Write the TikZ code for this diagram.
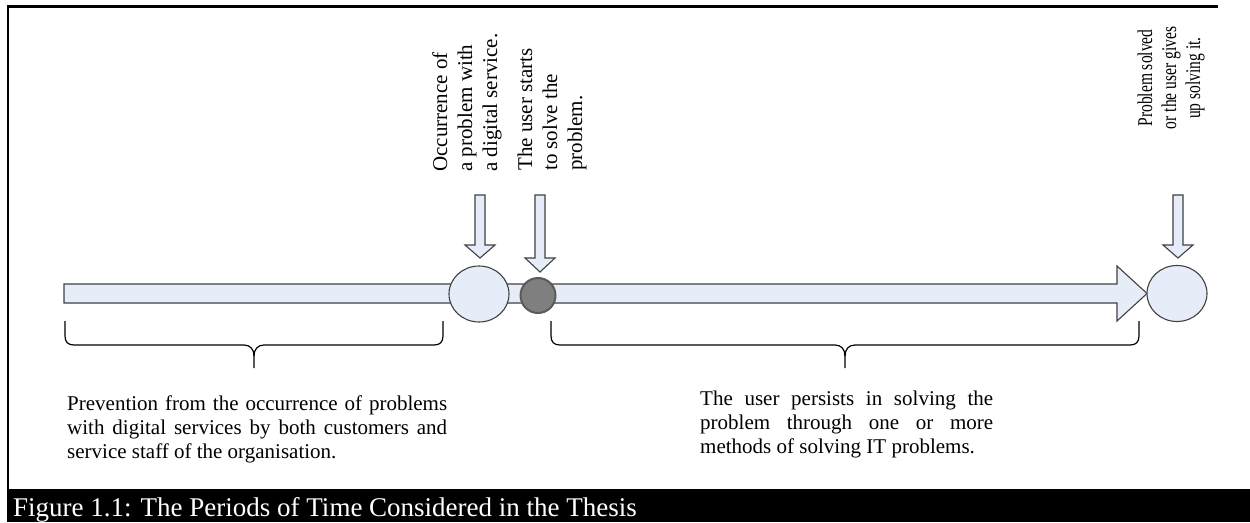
\documentclass[tikz,border=0pt]{standalone}
\usepackage{fontspec}
\usepackage{graphicx}
\setmainfont{Liberation Serif}
\usetikzlibrary{shapes.geometric}

\definecolor{fillblue}{HTML}{E6EDF8}
\definecolor{edgegray}{HTML}{404040}
\definecolor{dotgray}{HTML}{7F7F7F}
\definecolor{dotedge}{HTML}{5A5A5A}

% a downward block arrow: centre x, top of shaft, start of head, tip
\newcommand{\blockdown}[4]{%
  \draw[blockarrow] (#1-5,#2) -- (#1+5,#2) -- (#1+5,#3) -- (#1+15,#3)
    -- (#1,#4) -- (#1-15,#3) -- (#1-5,#3) -- cycle;}
% a brace under a period: left end, right end, middle
\newcommand{\periodbrace}[3]{%
  \draw[bracket] (#1,321) -- (#1,336) .. controls (#1,342) and (#1+3,345) .. (#1+9,345)
    -- (#3-10,345) .. controls (#3-4,345) and (#3,349) .. (#3,356) -- (#3,368);
  \draw[bracket] (#2,321) -- (#2,336) .. controls (#2,342) and (#2-3,345) .. (#2-9,345)
    -- (#3+10,345) .. controls (#3+4,345) and (#3,349) .. (#3,356);}

\begin{document}
\begin{tikzpicture}[x=1pt,y=-1pt,
  blockarrow/.style={draw=edgegray,fill=fillblue,line width=1.1pt,line join=miter},
  event/.style={ellipse,draw=edgegray,fill=fillblue,line width=1.1pt,
    minimum width=60pt,minimum height=56pt,inner sep=0pt},
  startdot/.style={circle,draw=dotedge,fill=dotgray,line width=2pt,
    minimum size=35pt,inner sep=0pt},
  bracket/.style={draw=black,line width=1.2pt},
  vlabel/.style={rotate=90,inner sep=0pt,font=\fontsize{21}{25}\selectfont},
  bodytext/.style={inner sep=0pt,anchor=base west,font=\fontsize{21}{24}\selectfont}]

\useasboundingbox (0,0) rectangle (1250,522);

% frame and caption bar
\draw[line width=2.5pt] (7.8,489) -- (7.8,6.7) -- (1218,6.7);
\fill[black] (7,489) rectangle (1250,522);
\node[anchor=base west,inner sep=0pt,text=white,font=\fontsize{27}{30}\selectfont]
  (caption) at (13,516) {Figure 1.1: The Periods of Time Considered in the Thesis};

% time line
\draw[blockarrow] (64,284) -- (1117,284) -- (1117,266) -- (1147,293.5)
  -- (1117,321) -- (1117,303) -- (64,303) -- cycle;
\node[event] (occur) at (479,294) {};
\node[startdot] (start) at (538,295.5) {};
\node[event] (solved) at (1177,293.5) {};

% events pointing onto the time line
\blockdown{480}{195}{245}{258}
\blockdown{540}{195}{258}{272}
\blockdown{1178}{195}{245}{258}

\node[vlabel,anchor=base west] (occurlabel) at (447,172)
  {\begin{tabular}[t]{@{}l@{}}Occurrence of\\a problem with\\a digital service.\end{tabular}};
\node[vlabel,anchor=base west] (startlabel) at (532,171)
  {\begin{tabular}[t]{@{}l@{}}The user starts\\to solve the\\problem.\end{tabular}};
% the closing label is set narrower along its lines
\node[vlabel,anchor=base,font=\fontsize{21}{24}\selectfont] (solvedlabel) at (1152,78)
  {\scalebox{0.74}[1]{\begin{tabular}[t]{@{}c@{}}Problem solved\\or the user gives\\up solving it.\end{tabular}}};

% periods
\periodbrace{65}{443}{254}
\periodbrace{551}{1139}{845}

\node[bodytext] (prevention) at (67,410)
  {\begin{tabular}[t]{@{}l@{}}%
   \makebox[380pt][s]{Prevention from the occurrence of problems}\\
   \makebox[380pt][s]{with digital services by both customers and}\\
   service staff of the organisation.\end{tabular}};
\node[bodytext] (persist) at (700,405)
  {\begin{tabular}[t]{@{}l@{}}%
   \makebox[293pt][s]{The user persists in solving the}\\
   \makebox[293pt][s]{problem through one or more}\\
   methods of solving IT problems.\end{tabular}};
\end{tikzpicture}
\end{document}
